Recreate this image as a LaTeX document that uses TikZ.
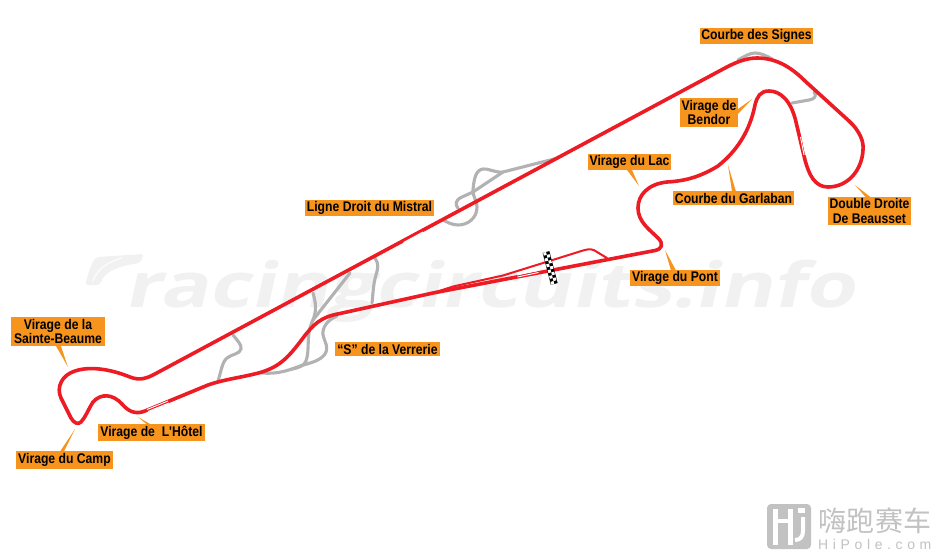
\documentclass[tikz,border=0pt]{standalone}
\usepackage{fontspec}
\setmainfont{Liberation Sans}
\newfontfamily\labfont[FakeStretch=0.87]{Liberation Sans Bold}
\newfontfamily\wmfont[FakeSlant=0.22,FakeStretch=1.31]{Open Sans Bold}
\newfontfamily\cjkfont{Noto Sans CJK SC}
\newfontfamily\hpfont[LetterSpace=33]{Liberation Sans}
\definecolor{trackred}{HTML}{ED1C24}
\definecolor{runoff}{HTML}{B2B2B2}
\definecolor{tag}{HTML}{F7941E}
\definecolor{wm}{HTML}{F1F1F1}
\definecolor{hp}{HTML}{C2C2C2}
\tikzset{
  main/.style={draw=trackred,line width=3.6pt,line join=round,line cap=round},
  pit/.style={draw=trackred,line width=2pt,line join=round,line cap=round},
  grey/.style={draw=runoff,line width=3.1pt,line join=round,line cap=round},
  stripe/.style={draw=white,line width=0.9pt},
  tagbox/.style={fill=tag,inner sep=0pt,align=center,text=black,
     font=\labfont\fontsize{14}{14.4}\selectfont},
  leader/.style={fill=tag,draw=none},
}
\begin{document}
\begin{tikzpicture}[x=1pt,y=-1pt]
\useasboundingbox (0,0) rectangle (938,555);
\fill[white] (0,0) rectangle (938,555);
% watermark
\node[anchor=base west,text=wm,inner sep=0pt,font=\wmfont\fontsize{62}{62}\selectfont] (wmtext) at (124,307) {racingcircuits.info};
\fill[wm,rounded corners=3pt] (85,285) .. controls (90,268) and (92,262) .. (97,257) -- (144,254) -- (140,263) .. controls (118,266) and (104,272) .. (100,285) -- cycle;
\draw[white,line width=1pt] (93,281) .. controls (97,270) and (105,263) .. (122,258);
% runoffs
\draw[grey] (738,60) .. controls (745,56) and (750,53) .. (755,53) .. controls (760,53) and (765,55) .. (772,59);
\draw[grey] (792,103) -- (809,100) .. controls (815,99) and (817,96) .. (814,92);
\draw[grey] (558,158) -- (503,172) .. controls (495,173) and (488,168) .. (483,169) .. controls (476,170) and (474,178) .. (473,190) .. controls (473,198) and (477,200) .. (477,207) .. controls (477,218) and (468,225) .. (458,225) .. controls (452,225) and (447,222) .. (443,220);
\draw[grey] (503,172) -- (473,192) -- (462,197) .. controls (455,200) and (455,205) .. (458,208);
\draw[grey] (375,258) .. controls (379,264) and (378,268) .. (376,275) .. controls (373,285) and (373,295) .. (372,303);
\draw[grey] (350,273) -- (313,320);
\draw[grey] (313,293) .. controls (316,303) and (317,312) .. (312,322) .. controls (306,335) and (310,350) .. (306,361) .. controls (304,366) and (298,368) .. (292,369);
\draw[grey] (337,316) .. controls (327,320) and (322,328) .. (323,335) .. controls (325,343) and (329,347) .. (325,354) .. controls (320,361) and (310,363) .. (300,366) .. controls (285,372) and (275,374) .. (262,373);
\draw[grey] (233,335) .. controls (237,340) and (242,345) .. (241,349) .. controls (240,354) and (232,354) .. (227,358) .. controls (222,362) and (221,372) .. (218,381);
% pit lane
\draw[pit] (433,293) -- (453,286.5) -- (503,275.5) -- (583,250.5) .. controls (590,248.5) and (593,249) .. (597,252) -- (607,258);
% main track
\draw[main] (153,375) -- (725,68)
 .. controls (738,61) and (748,58) .. (757,58)
 .. controls (775,58) and (790,66) .. (805,81)
 -- (849,121)
 .. controls (860,131) and (864,142) .. (863,150)
 .. controls (862,170) and (848,187) .. (828,187)
 .. controls (815,187) and (809,175) .. (805,160)
 -- (796,122)
 .. controls (791,100) and (780,91) .. (769,91)
 .. controls (760,91) and (757,97) .. (755,105)
 .. controls (750,130) and (738,150) .. (718,166)
 .. controls (700,177) and (685,181) .. (667,182)
 .. controls (648,184) and (638,195) .. (638,208)
 .. controls (638,222) and (650,230) .. (658,238)
 .. controls (664,244) and (662,249) .. (655,250.5)
 -- (433,293) -- (340,313.5)
 .. controls (320,317) and (313,325) .. (303,338)
 .. controls (288,358) and (280,366) .. (262,372)
 .. controls (245,377) and (225,379) .. (208,385)
 -- (145,411)
 .. controls (135,415) and (128,411) .. (122,404)
 .. controls (113,394) and (101,393) .. (93,402)
 .. controls (88,410) and (85,418) .. (81,422)
 .. controls (78,425) and (74,423) .. (71,418)
 -- (61,398)
 .. controls (56,387) and (62,375) .. (75,371)
 .. controls (90,366) and (110,369) .. (130,377)
 .. controls (140,381) and (147,378) .. cycle;
% stripes on the track
\draw[stripe] (403.5,242.5) -- (423,232);
\draw[stripe] (405.5,243.5) -- (425,233);
\draw[stripe] (147,409.5) -- (168,401);
\draw[stripe] (148,411.5) -- (169,403);
\draw[stripe] (517,275) -- (538,270.5);
\draw[stripe] (517.5,277) -- (538.5,272.5);
\draw[stripe] (800.5,137) -- (804,155);
\draw[stripe] (802,137) -- (805.5,155);
% chequered flag
\begin{scope}[shift={(546,252)},rotate=14.5]
 \fill[black] (-3.5,0) rectangle (3.5,33);
 \foreach \r in {0,...,10}{
   \pgfmathtruncatemacro{\cc}{mod(\r,2)}
   \ifnum\cc=0 \fill[white] (-3,\r*3) rectangle (0,\r*3+3);
   \else \fill[white] (0,\r*3) rectangle (3,\r*3+3); \fi
 }
\end{scope}
% labels
\node[tagbox,minimum width=113pt,minimum height=16pt] (signes) at (756.5,36) {Courbe des Signes};
\node[tagbox,minimum width=58pt,minimum height=29pt] (bendor) at (709,112.5) {Virage de\\Bendor};
\node[tagbox,minimum width=83pt,minimum height=16pt] (lac) at (629.5,162) {Virage du Lac};
\node[tagbox,minimum width=121pt,minimum height=14pt] (garlaban) at (733.5,198) {Courbe du Garlaban};
\node[tagbox,minimum width=83pt,minimum height=28pt] (beausset) at (869.5,211) {Double Droite\\De Beausset};
\node[tagbox,minimum width=129pt,minimum height=16pt] (mistral) at (369.5,208) {Ligne Droit du Mistral};
\node[tagbox,minimum width=90pt,minimum height=16pt] (pont) at (675,278) {Virage du Pont};
\node[tagbox,minimum width=105pt,minimum height=14pt] (verrerie) at (387.5,349) {“S” de la Verrerie};
\node[tagbox,minimum width=94pt,minimum height=29pt] (beaume) at (58,331.5) {Virage de la\\Sainte-Beaume};
\node[tagbox,minimum width=107pt,minimum height=17pt] (hotel) at (151.5,432.5) {Virage de\ \ L'Hôtel};
\node[tagbox,minimum width=97pt,minimum height=18pt] (camp) at (64.5,460) {Virage du Camp};
% leader tips
\coordinate (tipbeaume) at (68,367);
\coordinate (tiphotel) at (138,417);
\coordinate (tipcamp) at (75,429);
\coordinate (tippont) at (665,250);
\coordinate (tiplac) at (639,186);
\coordinate (tipgarlaban) at (728,165);
\coordinate (tipbeausset) at (855,185);
\coordinate (tipbendor) at (752,99);
\fill[leader] (56,346) -- (61,346) -- (tipbeaume) -- cycle;
\fill[leader] (147,424.5) -- (151,424.5) -- (tiphotel) -- cycle;
\fill[leader] (60,451.5) -- (64,451.5) -- (tipcamp) -- cycle;
\fill[leader] (671,270.5) -- (676,270.5) -- (tippont) -- cycle;
\fill[leader] (627,170) -- (632,170) -- (tiplac) -- cycle;
\fill[leader] (732,191.5) -- (736,191.5) -- (tipgarlaban) -- cycle;
\fill[leader] (866,197.5) -- (871,197.5) -- (tipbeausset) -- cycle;
\fill[leader] (738,109) -- (738,114) -- (tipbendor) -- cycle;
% HiPole logo
\fill[hp,rounded corners=4pt] (767,504) rectangle (811,549);
\draw[white,line width=4.2pt] (775.5,509) -- (775.5,545);
\draw[white,line width=4.2pt] (790.5,509) -- (790.5,545);
\draw[white,line width=3.6pt] (775.5,521) -- (790.5,521);
\fill[white] (798,508) rectangle (805,513);
\draw[white,line width=4pt] (803,517) -- (803,531) .. controls (803,537) and (800,540) .. (795,540);
\node[anchor=base west,inner sep=0pt,text=hp,font=\cjkfont\fontsize{28}{28}\selectfont] (zh) at (818,531) {嗨\hspace{0.6pt}跑\hspace{0.6pt}赛\hspace{0.6pt}车};
\node[anchor=base west,inner sep=0pt,text=hp,font=\hpfont\fontsize{14}{14}\selectfont] (en) at (818,549) {HiPole.com};
\end{tikzpicture}
\end{document}
